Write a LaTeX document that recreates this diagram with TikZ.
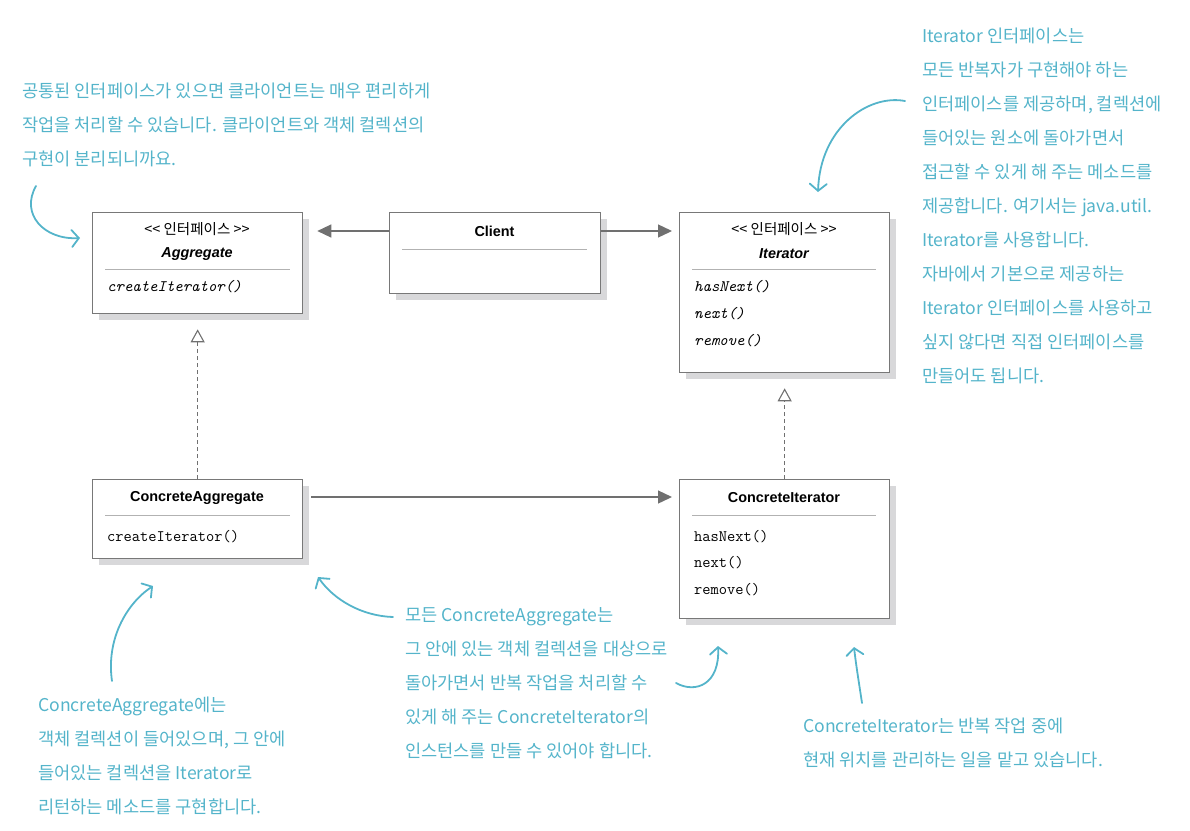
\documentclass[tikz,border=0pt]{standalone}
\usepackage{fontspec}
\setmainfont{Liberation Sans}
\newfontfamily\kr{Noto Sans CJK KR}
\usetikzlibrary{arrows.meta,shadows}
\definecolor{handteal}{RGB}{84,180,202}
\definecolor{boxgray}{RGB}{120,120,120}
\definecolor{shadowgray}{RGB}{216,216,218}
\definecolor{sepgray}{RGB}{178,178,178}
\definecolor{linegray}{RGB}{112,112,112}
\begin{document}
\begin{tikzpicture}[x=1pt,y=-1pt,
  umlbox/.style={draw=boxgray, line width=1.3pt, fill=white, anchor=north west, inner sep=0pt,
    drop shadow={shadow xshift=6pt,shadow yshift=-6pt,fill=shadowgray,opacity=1}},
  stereo/.style={font=\kr\fontsize{14.5}{16}\selectfont, inner sep=0pt},
  clsname/.style={font=\bfseries\fontsize{14.4}{17}\selectfont, inner sep=0pt},
  iname/.style={font=\bfseries\itshape\fontsize{14.4}{17}\selectfont, inner sep=0pt},
  method/.style={font=\ttfamily\fontsize{16}{18}\selectfont, anchor=west, inner sep=0pt},
  imethod/.style={font=\ttfamily\itshape\fontsize{16}{18}\selectfont, anchor=west, inner sep=0pt},
  sepline/.style={draw=sepgray, line width=0.8pt},
  assoc/.style={draw=linegray, line width=1.3pt, -{Triangle[length=14pt,width=13pt,fill=linegray]}},
  realize/.style={draw=linegray, line width=1.1pt, dash pattern=on 4pt off 3pt,
    -{Triangle[open,length=13pt,width=14pt,line width=1.1pt]}},
  note/.style={text=handteal, font=\kr\fontsize{17.6}{34}\selectfont, align=left, anchor=north west, inner sep=0pt},
  hand/.style={draw=handteal, line width=1.8pt, line cap=round, line join=round,
    -{Straight Barb[length=7pt,width=17pt,line cap=round]}}
]
\useasboundingbox (0,0) rectangle (1190,830);

% ---------- boxes ----------
\node[umlbox, minimum width=210pt, minimum height=101pt] (agg) at (92,212) {};
\node[umlbox, minimum width=211pt, minimum height=81pt] (client) at (389,212) {};
\node[umlbox, minimum width=210pt, minimum height=160pt] (iter) at (679,212) {};
\node[umlbox, minimum width=210pt, minimum height=79pt] (ca) at (92,479) {};
\node[umlbox, minimum width=210pt, minimum height=139pt] (ci) at (679,479) {};

% Aggregate
\node[stereo] (aggst) at (197,229) {<< 인터페이스 >>};
\node[iname] (aggnm) at (197,254) {Aggregate};
\path[sepline] (105,269) -- (290,269);
\node[imethod] (aggm1) at (107,287) {createIterator()};

% Client
\node[clsname] (clnm) at (494.5,231) {Client};
\path[sepline] (402,249) -- (587,249);

% Iterator
\node[stereo] (itst) at (784,229) {<< 인터페이스 >>};
\node[iname] (itnm) at (784,254) {Iterator};
\path[sepline] (692,269) -- (876,269);
\node[imethod] (itm1) at (694,287) {hasNext()};
\node[imethod] (itm2) at (694,314) {next()};
\node[imethod] (itm3) at (694,341) {remove()};

% ConcreteAggregate
\node[clsname] (canm) at (197,498) {ConcreteAggregate};
\path[sepline] (105,515) -- (290,515);
\node[method] (cam1) at (107,537) {createIterator()};

% ConcreteIterator
\node[clsname] (cinm) at (784,498) {ConcreteIterator};
\path[sepline] (692,515) -- (876,515);
\node[method] (cim1) at (694,537) {hasNext()};
\node[method] (cim2) at (694,563) {next()};
\node[method] (cim3) at (694,590) {remove()};

% ---------- connectors ----------
\draw[assoc] ([yshift=-19pt]client.north west) -- ([xshift=14pt,yshift=-19pt]agg.north east);
\draw[assoc] ([yshift=-19pt]client.north east) -- ([xshift=-7pt,yshift=-19pt]iter.north west);
\draw[assoc] ([xshift=8pt,yshift=-18pt]ca.north east) -- ([xshift=-7pt,yshift=-18pt]ci.north west);
\draw[realize] (ca.north) -- ([yshift=-15pt]agg.south);
\draw[realize] (ci.north) -- ([yshift=-15pt]iter.south);

% ---------- notes ----------
\node[note] (n1) at (22,83) {공통된 인터페이스가 있으면 클라이언트는 매우 편리하게\\작업을 처리할 수 있습니다. 클라이언트와 객체 컬렉션의\\구현이 분리되니까요.};
\node[note] (n2) at (922,28) {Iterator 인터페이스는\\모든 반복자가 구현해야 하는\\인터페이스를 제공하며, 컬렉션에\\들어있는 원소에 돌아가면서\\접근할 수 있게 해 주는 메소드를\\제공합니다. 여기서는 java.util.\\Iterator를 사용합니다.\\자바에서 기본으로 제공하는\\Iterator 인터페이스를 사용하고\\싶지 않다면 직접 인터페이스를\\만들어도 됩니다.};
\node[note] (n3) at (38,697) {ConcreteAggregate에는\\객체 컬렉션이 들어있으며, 그 안에\\들어있는 컬렉션을 Iterator로\\리턴하는 메소드를 구현합니다.};
\node[note] (n4) at (405,607) {모든 ConcreteAggregate는\\그 안에 있는 객체 컬렉션을 대상으로\\돌아가면서 반복 작업을 처리할 수\\있게 해 주는 ConcreteIterator의\\인스턴스를 만들 수 있어야 합니다.};
\node[note] (n5) at (803,718) {ConcreteIterator는 반복 작업 중에\\현재 위치를 관리하는 일을 맡고 있습니다.};

% ---------- hand-drawn arrows ----------
\coordinate (a1s) at (36,186);  \coordinate (a1e) at (80,238);
\coordinate (a2s) at (905,101); \coordinate (a2e) at (818,192);
\coordinate (a3s) at (112,681); \coordinate (a3e) at (153,586);
\coordinate (a4s) at (393,617); \coordinate (a4e) at (318,577);
\coordinate (a5s) at (676,683); \coordinate (a5e) at (718,646);
\coordinate (a6s) at (862,703); \coordinate (a6e) at (854,647);
\draw[hand] (a1s) .. controls (20,214) and (44,240) .. (a1e);
\draw[hand] (a2s) .. controls (868,94) and (820,128) .. (a2e);
\draw[hand] (a3s) .. controls (106,640) and (126,604) .. (a3e);
\draw[hand] (a4s) .. controls (362,616) and (334,600) .. (a4e);
\draw[hand] (a5s) .. controls (696,694) and (720,684) .. (a5e);
\draw[hand] (a6s) .. controls (859,683) and (856,665) .. (a6e);
\end{tikzpicture}
\end{document}
